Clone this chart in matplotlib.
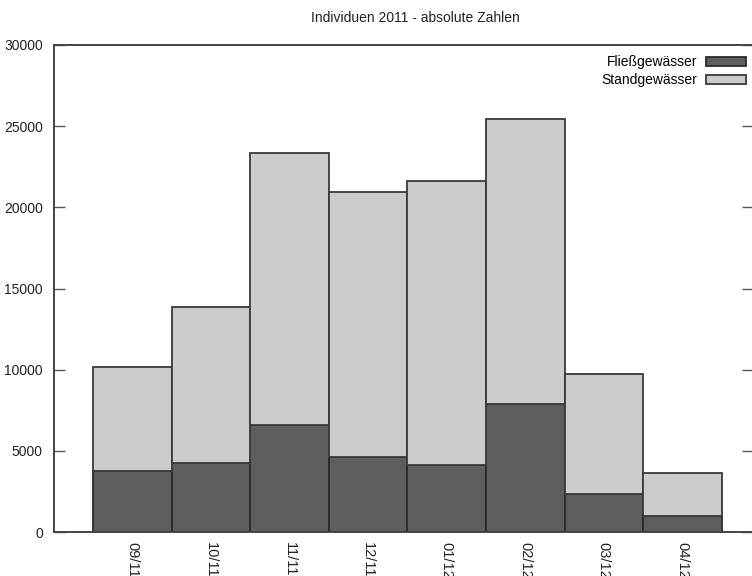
import numpy as np
import matplotlib
matplotlib.use('Agg')
import matplotlib.pyplot as plt

months = ['09/11', '10/11', '11/11', '12/11', '01/12', '02/12', '03/12', '04/12']
fliess = [3780, 4270, 6590, 4640, 4130, 7870, 2320, 990]
stand = [6370, 9590, 16740, 16290, 17520, 17560, 7400, 2630]

plt.rcParams.update({'font.size': 10, 'font.family': ['Liberation Sans', 'DejaVu Sans']})

fig = plt.figure(figsize=(7.52, 5.76), dpi=100)
W, H = 752, 576
ax = fig.add_axes([54 / W, (H - 532) / H, (753 - 54) / W, (532 - 45) / H])

x = np.arange(len(months))
ax.bar(x, fliess, width=1.0, color='#5e5e5e', edgecolor='#2a2a2a', linewidth=1.3,
       label='Fließgewässer')
ax.bar(x, stand, width=1.0, bottom=fliess, color='#cccccc', edgecolor='#3a3a3a', linewidth=1.3,
       label='Standgewässer')

ax.set_xlim(-1, 7.9)
ax.set_ylim(0, 30000)
ax.set_yticks(range(0, 30001, 5000))
ax.set_xticks(x)
ax.set_xticklabels(months, rotation=-90, ha='center', va='top', fontsize=10.5)
ax.tick_params(axis='x', length=0, pad=7, colors='#222222')
ax.tick_params(axis='y', direction='in', length=8, width=1, right=True, colors='#555555',
               labelcolor='#222222', pad=8)

for s in ['left', 'bottom', 'top']:
    ax.spines[s].set_color('#444444')
    ax.spines[s].set_linewidth(1.4)
ax.spines['right'].set_visible(False)

fig.text(415 / W, 1 - 18 / H, 'Individuen 2011 - absolute Zahlen', ha='center', va='center',
         color='#222222')

ax.legend(loc='upper right', bbox_to_anchor=(746 / W, 1 - 55 / H), bbox_transform=fig.transFigure,
          frameon=False, markerfirst=False, handlelength=2.9, handleheight=0.6,
          labelspacing=0.3, handletextpad=0.6, borderaxespad=0, borderpad=0)

plt.savefig('out.png', dpi=100)
